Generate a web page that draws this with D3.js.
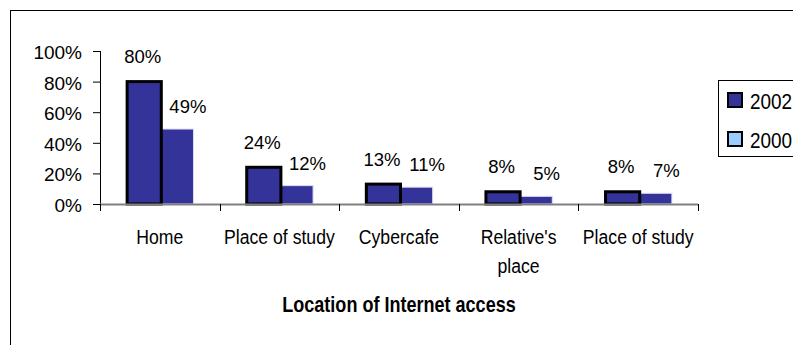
<!DOCTYPE html>
<html>
<head>
<meta charset="utf-8">
<script src="https://cdn.jsdelivr.net/npm/d3@7"></script>
<style>
  html, body { margin: 0; padding: 0; background: #fff; }
  svg { display: block; }
  text { font-family: "Liberation Sans", Arial, sans-serif; fill: #000; }
</style>
</head>
<body>
<svg id="chart" width="793" height="345"></svg>
<script>
// Where people accessed the Internet, share of respondents
const categories = ["Home", "Place of study", "Cybercafe", "Relative's place", "Place of study"];
const seriesNames = ["2002", "2000"];
const values2002 = [80, 24, 13, 8, 8];
const values2000 = [49, 12, 11, 5, 7];
const yTicks = [0, 20, 40, 60, 80, 100];
const axisTitle = "Location of Internet access";

const svg = d3.select("#chart");

const plot = { left: 100, right: 698, top: 51, bottom: 204 };
const NARROW = 0.84; // horizontal squeeze for condensed text

// chart area frame (runs off the right and bottom edges)
svg.append("rect")
  .attr("x", 10.5).attr("y", 10.5)
  .attr("width", 900).attr("height", 500)
  .attr("fill", "none").attr("stroke", "#000").attr("stroke-width", 1);

const x = d3.scaleBand()
  .domain(d3.range(categories.length))
  .range([plot.left, plot.right])
  .padding(0);

const xs = d3.scaleBand()
  .domain(seriesNames)
  .range([0, x.bandwidth()])
  .paddingInner(0)
  .paddingOuter(0.75);

const y = d3.scaleLinear().domain([0, 100]).range([plot.bottom, plot.top]);

const rows = categories.map((c, i) => ({ i, c, v2002: values2002[i], v2000: values2000[i] }));

// bars: 2002 with a heavy black edge, 2000 with a fine light edge
const g = svg.append("g");
const bw = xs.bandwidth();

g.selectAll("rect.b2000").data(rows).join("rect")
  .attr("class", "b2000")
  .attr("x", d => x(d.i) + xs("2000") + 1)
  .attr("y", d => y(d.v2000))
  .attr("width", bw - 1.5)
  .attr("height", d => y(0) - y(d.v2000))
  .attr("fill", "#333399")
  .attr("stroke", "#dcdcf2")
  .attr("stroke-width", 1);

g.selectAll("rect.b2002").data(rows).join("rect")
  .attr("class", "b2002")
  .attr("x", d => x(d.i) + xs("2002") + 1.5)
  .attr("y", d => y(d.v2002))
  .attr("width", bw)
  .attr("height", d => y(0) - y(d.v2002))
  .attr("fill", "#333399")
  .attr("stroke", "#000")
  .attr("stroke-width", 3);

// y axis
const yAxis = svg.append("g")
  .attr("transform", `translate(${plot.left},0)`)
  .call(d3.axisLeft(y).tickValues(yTicks).tickSize(7).tickFormat(d => d + "%"));
yAxis.select(".domain").attr("stroke", "#000").attr("d", `M0.5,${plot.top}V${plot.bottom}`);
yAxis.selectAll(".tick line").attr("stroke", "#000");
yAxis.selectAll(".tick text")
  .attr("x", -18)
  .attr("dy", null)
  .attr("y", 7.5)
  .style("font-size", "19px")
  .style("font-family", "'Liberation Sans', Arial, sans-serif");

// x axis: grey baseline with tick marks at the category boundaries
const bounds = d3.range(categories.length + 1).map(k => plot.left + k * x.step());
svg.append("line")
  .attr("x1", plot.left).attr("x2", plot.right)
  .attr("y1", plot.bottom + 0.5).attr("y2", plot.bottom + 0.5)
  .attr("stroke", "#808080").attr("stroke-width", 2);
svg.selectAll("line.xtick").data(bounds).join("line")
  .attr("class", "xtick")
  .attr("x1", d => Math.round(d) + 0.5).attr("x2", d => Math.round(d) + 0.5)
  .attr("y1", plot.bottom).attr("y2", plot.bottom + 7)
  .attr("stroke", "#000").attr("stroke-width", 1);

// category labels, wrapped where needed
const wrapLines = c => c === "Relative's place" ? ["Relative's", "place"] : [c];
const cat = svg.selectAll("g.cat").data(rows).join("g")
  .attr("class", "cat")
  .attr("transform", d => `translate(${x(d.i) + x.bandwidth() / 2},244) scale(${NARROW},1)`);
cat.selectAll("text").data(d => wrapLines(d.c)).join("text")
  .attr("text-anchor", "middle")
  .attr("y", (d, k) => k * 29)
  .style("font-size", "21px")
  .text(d => d);

// axis title
svg.append("g")
  .attr("transform", `translate(${(plot.left + plot.right) / 2},312) scale(0.82,1)`)
  .append("text")
  .attr("text-anchor", "middle")
  .style("font-size", "22px")
  .style("font-weight", "bold")
  .text(axisTitle);

// value labels
svg.selectAll("text.l2002").data(rows).join("text")
  .attr("class", "l2002")
  .attr("text-anchor", "middle")
  .attr("x", d => x(d.i) + xs("2002") + bw / 2)
  .attr("y", d => y(d.v2002) - 18.5)
  .style("font-size", "18.5px")
  .text(d => d.v2002 + "%");

svg.selectAll("text.l2000").data(rows).join("text")
  .attr("class", "l2000")
  .attr("text-anchor", "middle")
  .attr("x", d => x(d.i) + xs("2000") + bw / 2 + 11)
  .attr("y", d => y(d.v2000) - 16)
  .style("font-size", "18.5px")
  .text(d => d.v2000 + "%");

// legend
const legend = svg.append("g");
legend.append("rect")
  .attr("x", 718.5).attr("y", 80.5)
  .attr("width", 120).attr("height", 76)
  .attr("fill", "#fff").attr("stroke", "#000").attr("stroke-width", 1);
const swatchFill = { "2002": "#333399", "2000": "#99ccff" };
const items = legend.selectAll("g.item").data(seriesNames).join("g")
  .attr("class", "item")
  .attr("transform", (d, k) => `translate(0,${92 + k * 39})`);
items.append("rect")
  .attr("x", 728).attr("y", 1)
  .attr("width", 14).attr("height", 14)
  .attr("fill", d => swatchFill[d])
  .attr("stroke", "#000").attr("stroke-width", 2);
items.append("g")
  .attr("transform", `translate(750,16.5) scale(0.86,1)`)
  .append("text")
  .style("font-size", "22px")
  .text(d => d);
</script>
</body>
</html>
